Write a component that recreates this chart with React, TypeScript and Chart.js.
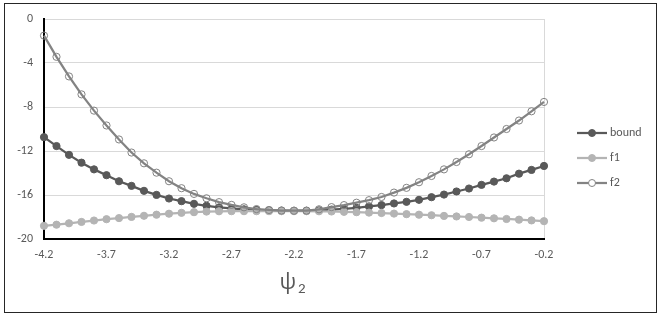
import React, { useEffect, useRef } from "react";
import { Chart, registerables } from "chart.js";

Chart.register(...registerables);

const xLabels = [
  "-4.2", "-4.1", "-4.0", "-3.9", "-3.8", "-3.7", "-3.6", "-3.5", "-3.4", "-3.3",
  "-3.2", "-3.1", "-3.0", "-2.9", "-2.8", "-2.7", "-2.6", "-2.5", "-2.4", "-2.3",
  "-2.2", "-2.1", "-2.0", "-1.9", "-1.8", "-1.7", "-1.6", "-1.5", "-1.4", "-1.3",
  "-1.2", "-1.1", "-1.0", "-0.9", "-0.8", "-0.7", "-0.6", "-0.5", "-0.4", "-0.3",
  "-0.2",
];

const boundValues = [
  -10.74, -11.55, -12.35, -13.06, -13.67, -14.2, -14.75, -15.17, -15.62, -15.99,
  -16.32, -16.56, -16.8, -16.98, -17.13, -17.22, -17.3, -17.36, -17.4, -17.42,
  -17.43, -17.43, -17.4, -17.33, -17.26, -17.17, -17.04, -16.92, -16.77, -16.62,
  -16.44, -16.2, -15.96, -15.68, -15.41, -15.08, -14.78, -14.48, -14.06, -13.72,
  -13.36,
];

const f1Values = [
  -18.8, -18.7, -18.57, -18.45, -18.32, -18.2, -18.1, -17.99, -17.89, -17.79,
  -17.7, -17.62, -17.56, -17.51, -17.48, -17.47, -17.47, -17.47, -17.47, -17.47,
  -17.47, -17.47, -17.48, -17.5, -17.53, -17.56, -17.6, -17.64, -17.69, -17.74,
  -17.79, -17.84, -17.9, -17.95, -18.0, -18.06, -18.12, -18.18, -18.24, -18.31,
  -18.38,
];

const f2Values = [
  -1.51, -3.44, -5.22, -6.85, -8.33, -9.68, -10.95, -12.14, -13.12, -13.97,
  -14.75, -15.38, -15.9, -16.3, -16.65, -16.9, -17.12, -17.28, -17.36, -17.41,
  -17.43, -17.42, -17.3, -17.1, -16.92, -16.7, -16.47, -16.18, -15.78, -15.35,
  -14.84, -14.27, -13.67, -13.0, -12.3, -11.55, -10.77, -10.0, -9.23, -8.39,
  -7.54,
];

const yTickStep = 4;
const yMin = -20;
const yMax = 0;
const xTickEvery = 5;

const seriesNames = ["bound", "f1", "f2"];
const axisTitleMain = "ψ";
const axisTitleSub = "2";

const FONT = "Calibri, Carlito, Lato, 'Open Sans', sans-serif";
const TEXT_COLOR = "#595959";

const framePlugin = {
  id: "frame",
  beforeDraw(chart: any) {
    const ctx = chart.ctx;
    ctx.save();
    ctx.fillStyle = "#ffffff";
    ctx.fillRect(0, 0, chart.width, chart.height);
    ctx.strokeStyle = "#262626";
    ctx.lineWidth = 1;
    ctx.strokeRect(4.5, 3.5, 652, 309);
    ctx.restore();
  },
};

const extrasPlugin = {
  id: "extras",
  afterDraw(chart: any) {
    const ctx = chart.ctx;
    const area = chart.chartArea;
    ctx.save();
    // Custom Excel-like legend: line with marker
    const legendLeft = area.right + 33;
    const startY = 133;
    const gap = 25;
    chart.data.datasets.forEach((ds: any, i: number) => {
      const y = startY + i * gap;
      ctx.strokeStyle = ds.borderColor;
      ctx.lineWidth = 2.25;
      ctx.beginPath();
      ctx.moveTo(legendLeft, y);
      ctx.lineTo(legendLeft + 30, y);
      ctx.stroke();
      ctx.beginPath();
      ctx.arc(legendLeft + 15, y, 3.5, 0, Math.PI * 2);
      ctx.fillStyle = ds.pointBackgroundColor === "rgba(255,255,255,0)" ? "#ffffff" : ds.pointBackgroundColor;
      ctx.fill();
      ctx.lineWidth = 1;
      ctx.strokeStyle = ds.pointBorderColor;
      ctx.stroke();
      ctx.fillStyle = TEXT_COLOR;
      ctx.font = `12px ${FONT}`;
      ctx.textAlign = "left";
      ctx.textBaseline = "middle";
      ctx.fillText(ds.label, legendLeft + 33, y);
    });
    // Axis title psi with subscript 2
    ctx.fillStyle = TEXT_COLOR;
    ctx.textBaseline = "alphabetic";
    ctx.textAlign = "left";
    ctx.font = `22px 'Open Sans', 'DejaVu Sans', sans-serif`;
    const mainW = ctx.measureText(axisTitleMain).width;
    ctx.font = `15px ${FONT}`;
    const subW = ctx.measureText(axisTitleSub).width;
    const cx = (area.left + area.right) / 2 - 1.5;
    const startX = cx - (mainW + 2 + subW) / 2;
    ctx.font = `22px 'Open Sans', 'DejaVu Sans', sans-serif`;
    ctx.fillText(axisTitleMain, startX, 289);
    ctx.font = `15px ${FONT}`;
    ctx.fillText(axisTitleSub, startX + mainW + 2, 293);
    ctx.restore();
  },
};

export default function App() {
  const canvasRef = useRef<HTMLCanvasElement | null>(null);

  useEffect(() => {
    if (!canvasRef.current) return;
    const chart = new Chart(canvasRef.current, {
      type: "line",
      data: {
        labels: xLabels,
        datasets: [
          {
            label: seriesNames[0],
            data: boundValues,
            borderColor: "#595959",
            backgroundColor: "#595959",
            pointBackgroundColor: "#595959",
            pointBorderColor: "#595959",
            borderWidth: 2.25,
            pointRadius: 3.6,
            pointBorderWidth: 1,
            order: 3,
          },
          {
            label: seriesNames[1],
            data: f1Values,
            borderColor: "#b4b4b4",
            backgroundColor: "#b4b4b4",
            pointBackgroundColor: "#b4b4b4",
            pointBorderColor: "#b4b4b4",
            borderWidth: 2.25,
            pointRadius: 3.6,
            pointBorderWidth: 1,
            order: 2,
          },
          {
            label: seriesNames[2],
            data: f2Values,
            borderColor: "#838383",
            backgroundColor: "#838383",
            pointBackgroundColor: "rgba(255,255,255,0)",
            pointBorderColor: "#838383",
            borderWidth: 2.25,
            pointRadius: 3.6,
            pointBorderWidth: 1,
            order: 1,
          },
        ],
      },
      options: {
        responsive: false,
        animation: false,
        layout: { padding: { left: 0, top: 19, right: 121, bottom: 0 } },
        plugins: {
          legend: { display: false },
          tooltip: { enabled: false },
        },
        scales: {
          x: {
            type: "category",
            offset: false,
            afterFit(scale: any) {
              scale.height = 79;
            },
            grid: {
              drawTicks: false,
              color: (c: any) =>
                c.index === xLabels.length - 1 ? "#d9d9d9" : "rgba(0,0,0,0)",
            },
            border: { color: "#000000", width: 2 },
            ticks: {
              autoSkip: false,
              maxRotation: 0,
              minRotation: 0,
              padding: 9,
              color: TEXT_COLOR,
              font: { family: FONT, size: 12 },
              callback: (_v: any, i: number) =>
                i % xTickEvery === 0 ? xLabels[i] : "",
            },
          },
          y: {
            min: yMin,
            max: yMax,
            afterFit(scale: any) {
              scale.width = 44;
            },
            grid: { color: "#d9d9d9", drawTicks: false, lineWidth: 1 },
            border: { color: "#000000", width: 2 },
            ticks: {
              stepSize: yTickStep,
              padding: 11,
              color: TEXT_COLOR,
              font: { family: FONT, size: 12 },
            },
          },
        },
      },
      plugins: [framePlugin, extrasPlugin],
    });
    return () => chart.destroy();
  }, []);

  return (
    <div style={{ position: "absolute", left: 0, top: 0, width: 665, height: 318 }}>
      <canvas
        ref={canvasRef}
        width={665}
        height={318}
        style={{ display: "block", width: 665, height: 318 }}
      />
    </div>
  );
}
